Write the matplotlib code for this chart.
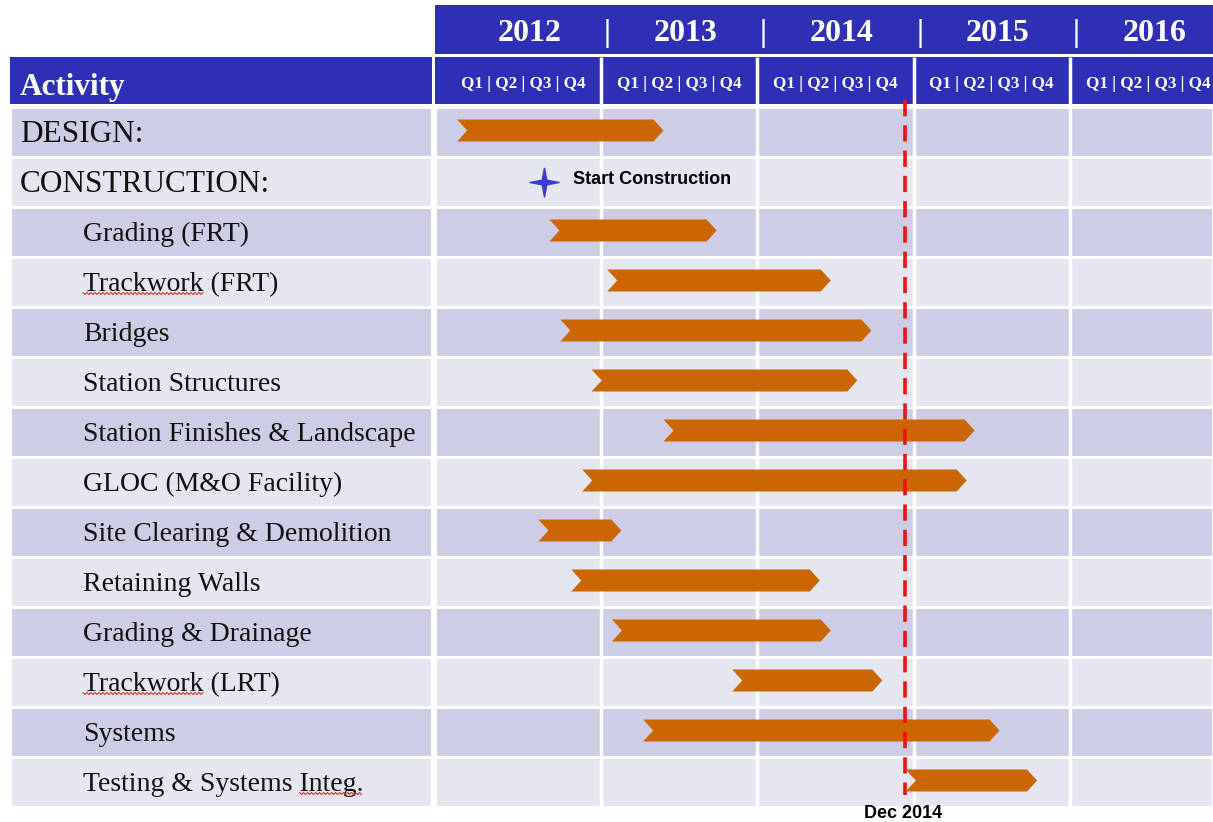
import matplotlib
matplotlib.use('Agg')
import matplotlib.pyplot as plt
from matplotlib.patches import Polygon
from matplotlib.lines import Line2D
import numpy as np

# data
activities = ["DESIGN:", "CONSTRUCTION:", "Grading (FRT)", "Trackwork (FRT)", "Bridges",
              "Station Structures", "Station Finishes & Landscape", "GLOC (M&O Facility)",
              "Site Clearing & Demolition", "Retaining Walls", "Grading & Drainage",
              "Trackwork (LRT)", "Systems", "Testing & Systems Integ."]
top_level = [True, True] + [False] * 12
starts = [2012.08, None, 2012.67, 2013.04, 2012.74, 2012.94, 2013.40, 2012.88,
          2012.60, 2012.81, 2013.07, 2013.84, 2013.27, 2014.95]
ends = [2013.40, None, 2013.74, 2014.47, 2014.73, 2014.64, 2015.39, 2015.34,
        2013.13, 2014.40, 2014.47, 2014.80, 2015.55, 2015.79]
years = [2012, 2013, 2014, 2015, 2016]
quarter_label = "Q1 | Q2 | Q3 | Q4"
milestone_x = 2012.635
milestone_label = "Start Construction"
status_x = 2014.945
status_label = "Dec 2014"
# words flagged by the spell checker: (row, text before word, word)
flagged = [(3, "", "Trackwork"), (11, "", "Trackwork"), (13, "Testing & Systems ", "Integ.")]

BLUE = '#2f2fb6'
DARK = '#cdcde5'
LIGHT = '#e6e6f1'
ORANGE = '#cc6600'
SERIF = ['Liberation Serif', 'DejaVu Serif']
SANS = ['Liberation Sans', 'DejaVu Sans']

W, H = 1213, 822
fig = plt.figure(figsize=(W / 100, H / 100), dpi=100)
bottom = (H - 807) / H
height = 802 / H
ax = fig.add_axes([435 / W, bottom, (W - 435) / W, height])
lab = fig.add_axes([10 / W, bottom, 422 / W, height])

x0, x1 = 2011.938, 2016.916
n = len(activities)
rows = list(range(n))
stripe = [DARK if i % 2 == 0 else LIGHT for i in rows]

for a in (ax, lab):
    a.set_ylim(n, -2.04)
    a.axis('off')
ax.set_xlim(x0, x1)
lab.set_xlim(0, 1)

# row stripes
ax.barh([r + 0.5 for r in rows], x1 - x0, left=x0, height=1, color=stripe,
        edgecolor='white', linewidth=2.2)
lab.barh([r + 0.5 for r in rows], 1, left=0, height=1, color=stripe,
         edgecolor='white', linewidth=2.2)

# headers
ax.barh(-1.55, x1 - x0, left=x0, height=0.98, color=BLUE)
ax.barh(-0.53, x1 - x0, left=x0, height=0.94, color=BLUE)
lab.barh(-0.53, 1, left=0, height=0.94, color=BLUE)
ax.vlines(years[1:], -1.0, n, color='white', linewidth=2.5)

for y in years:
    ax.text(y + 0.54, -1.47, str(y), color='white', fontsize=23, fontweight='bold',
            family=SERIF, ha='center', va='center', clip_on=True)
    ax.text(y + 0.5, -0.45, quarter_label, color='white', fontsize=12.3,
            fontweight='bold', family=SERIF, ha='center', va='center', clip_on=True)
for y in years[1:]:
    ax.text(y + 0.04, -1.47, "|", color='white', fontsize=23, fontweight='bold',
            family=SERIF, ha='center', va='center')
lab.text(0.024, -0.4, "Activity", color='white', fontsize=22.5, fontweight='bold',
         family=SERIF, ha='left', va='center')

# row labels
label_props = []
for i, (name, top) in enumerate(zip(activities, top_level)):
    xs = 0.024 if top else 0.173
    fs = 22.5 if top else 20
    lab.text(xs, i + 0.55, name, fontsize=fs, family=SERIF, ha='left', va='center',
             color='#111111')
    label_props.append((xs, fs))

# chevron bars
h, d = 0.22, 0.064
for i, (s, e) in enumerate(zip(starts, ends)):
    if s is None:
        continue
    yc = i + 0.47
    verts = [(s, yc - h), (e - d, yc - h), (e, yc), (e - d, yc + h), (s, yc + h), (s + d, yc)]
    ax.add_patch(Polygon(verts, closed=True, facecolor=ORANGE, edgecolor='none', zorder=3))

# milestone
star = [(0, 1), (0.16, 0.16), (1, 0), (0.16, -0.16), (0, -1), (-0.16, -0.16), (-1, 0),
        (-0.16, 0.16), (0, 1)]
ax.plot([milestone_x], [1.5], marker=star, markersize=21, color='#3b3bd4',
        linestyle='none', zorder=4)
ax.text(milestone_x + 0.185, 1.46, milestone_label, fontsize=13, fontweight='bold',
        family=SANS, ha='left', va='center')

# status line
ax.plot([status_x, status_x], [-0.14, n - 0.24], color='#ee1111', linewidth=2.6,
        dashes=(4.5, 2.5), zorder=5, clip_on=False)
ax.text(status_x - 0.01, n + 0.12, status_label, fontsize=13, fontweight='bold',
        family=SANS, ha='center', va='center', clip_on=False)

# spell-check squiggles
fig.canvas.draw()
r = fig.canvas.get_renderer()
for row, before, word in flagged:
    xs, fs = label_props[row]
    kw = dict(fontsize=fs, family=SERIF, ha='left', va='center')
    t_pre = lab.text(xs, row + 0.55, before, **kw)
    t_all = lab.text(xs, row + 0.55, before + word, **kw)
    bb_pre = t_pre.get_window_extent(r)
    bb_all = t_all.get_window_extent(r)
    xa = bb_pre.x1 if before else bb_all.x0
    xb = bb_all.x1
    yb = bb_all.y0 + 3.5
    t_pre.remove()
    t_all.remove()
    px = np.arange(xa, xb, 2.0)
    py = yb + np.where(np.arange(len(px)) % 2 == 0, 1.0, -1.0)
    fig.add_artist(Line2D(px / W, py / H, transform=fig.transFigure, color='#e03030',
                          linewidth=0.8))

fig.savefig('out.png', dpi=100)
